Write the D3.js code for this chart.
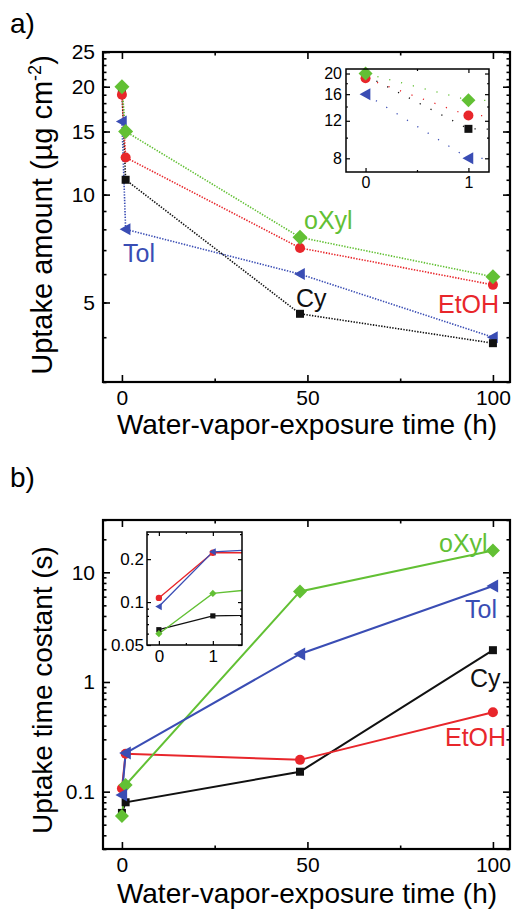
<!DOCTYPE html>
<html>
<head>
<meta charset="utf-8">
<script src="https://cdn.jsdelivr.net/npm/d3@7"></script>
<style>
  body { margin: 0; background: #fff; }
  svg { display: block; font-family: "Liberation Sans", Arial, sans-serif; }
</style>
</head>
<body>
<div id="wrapper"></div>
<script>
// exposure times (h)
const hours = [0, 1, 48, 100]

// panel a: uptake amount (ug cm^-2)
const amountOXyl = [20.0, 15.0, 7.6, 5.9]
const amountEtOH = [19.0, 12.7, 7.1, 5.6]
const amountCy = [19.6, 11.0, 4.65, 3.85]
const amountTol = [16.0, 8.0, 6.0, 4.0]

// panel b: uptake time constant (s)
const tauOXyl = [0.06, 0.115, 6.7, 15.8]
const tauEtOH = [0.107, 0.222, 0.195, 0.53]
const tauCy = [0.064, 0.08, 0.152, 1.95]
const tauTol = [0.093, 0.225, 1.8, 7.5]

// tick labels
const xTicks = [0, 50, 100]
const xMinor = [25, 75]
const aTicks = [5, 10, 15, 20, 25]
const aMinor = d3.range(3, 26)
const bTicks = [0.1, 1, 10]
const insetXTicks = [0, 1]
const insetXMinor = [0.5]
const insetATicks = [8, 12, 16, 20]
const insetAMinor = [10, 14, 18]
const insetBTicks = [0.05, 0.1, 0.2]

const green = "#62c034"
const red = "#e8262b"
const blue = "#3a4db4"
const black = "#111"

const width = 513
const height = 910

const svg = d3.select("#wrapper")
  .append("svg")
    .attr("width", width)
    .attr("height", height)

function markerPath(shape, s) {
  if (shape === "square") return `M${-s},${-s}H${s}V${s}H${-s}Z`
  if (shape === "diamond") return `M0,${-s}L${s},0L0,${s}L${-s},0Z`
  if (shape === "triangle") return `M${-s},0L${s * 0.8},${-s}L${s * 0.8},${s}Z`
  return d3.symbol(d3.symbolCircle, Math.PI * s * s)()
}

function drawPanel(cfg) {
  const xScale = d3.scaleLinear().domain(cfg.xDomain).range([cfg.left, cfg.right])
  const yScale = d3.scaleLog().domain(cfg.yDomain).range([cfg.bottom, cfg.top])

  const g = svg.append("g")

  g.append("clipPath").attr("id", cfg.id + "-clip")
    .append("rect")
      .attr("x", cfg.left)
      .attr("y", cfg.top)
      .attr("width", cfg.right - cfg.left)
      .attr("height", cfg.bottom - cfg.top)

  g.append("rect")
    .attr("x", cfg.left)
    .attr("y", cfg.top)
    .attr("width", cfg.right - cfg.left)
    .attr("height", cfg.bottom - cfg.top)
    .attr("fill", "#fff")

  // ticks on all four sides, pointing inwards
  const fmt = cfg.format || (d => d)
  const axes = [
    [d3.axisBottom(xScale).tickValues(cfg.xTicks).tickSize(-cfg.major).tickPadding(cfg.padX).tickFormat(fmt), `translate(0,${cfg.bottom})`],
    [d3.axisBottom(xScale).tickValues(cfg.xMinor).tickSize(-cfg.minor).tickFormat(""), `translate(0,${cfg.bottom})`],
    [d3.axisTop(xScale).tickValues(cfg.xTicks).tickSize(-cfg.major).tickFormat(""), `translate(0,${cfg.top})`],
    [d3.axisTop(xScale).tickValues(cfg.xMinor).tickSize(-cfg.minor).tickFormat(""), `translate(0,${cfg.top})`],
    [d3.axisLeft(yScale).tickValues(cfg.yTicks).tickSize(-cfg.major).tickPadding(cfg.padY).tickFormat(fmt), `translate(${cfg.left},0)`],
    [d3.axisLeft(yScale).tickValues(cfg.yMinor).tickSize(-cfg.minor).tickFormat(""), `translate(${cfg.left},0)`],
    [d3.axisRight(yScale).tickValues(cfg.yTicks).tickSize(-cfg.major).tickFormat(""), `translate(${cfg.right},0)`],
    [d3.axisRight(yScale).tickValues(cfg.yMinor).tickSize(-cfg.minor).tickFormat(""), `translate(${cfg.right},0)`],
  ]
  axes.forEach(([axis, tr]) => {
    const a = g.append("g").attr("transform", tr).call(axis)
      .attr("font-family", null)
      .attr("font-size", cfg.fontSize)
    a.select(".domain").remove()
    a.selectAll("line").attr("stroke", "#000").attr("stroke-width", cfg.tickWidth)
    a.selectAll("text").attr("fill", "#000")
  })

  // lines
  const line = d3.line()
    .x((d, i) => xScale(hours[i]))
    .y(d => yScale(d))

  const series = g.append("g").attr("clip-path", `url(#${cfg.id}-clip)`)
  cfg.series.forEach(s => {
    series.append("path")
      .attr("d", line(s.values))
      .attr("fill", "none")
      .attr("stroke", s.color)
      .attr("stroke-width", cfg.lineWidth)
      .attr("stroke-dasharray", cfg.dash)
  })

  // markers
  cfg.series.forEach(s => {
    g.selectAll(null)
      .data(s.values.map((v, i) => [hours[i], v]).filter(d => d[0] <= cfg.xDomain[1]))
      .enter().append("path")
        .attr("d", markerPath(s.shape, cfg.sizes[s.shape]))
        .attr("transform", d => `translate(${xScale(d[0])},${yScale(d[1])})`)
        .attr("fill", s.color)
  })

  g.append("rect")
    .attr("x", cfg.left)
    .attr("y", cfg.top)
    .attr("width", cfg.right - cfg.left)
    .attr("height", cfg.bottom - cfg.top)
    .attr("fill", "none")
    .attr("stroke", "#000")
    .attr("stroke-width", cfg.frameWidth)

  return g
}

const seriesA = [
  { values: amountTol, color: blue, shape: "triangle" },
  { values: amountCy, color: black, shape: "square" },
  { values: amountEtOH, color: red, shape: "circle" },
  { values: amountOXyl, color: green, shape: "diamond" },
]
const seriesB = [
  { values: tauCy, color: black, shape: "square" },
  { values: tauEtOH, color: red, shape: "circle" },
  { values: tauOXyl, color: green, shape: "diamond" },
  { values: tauTol, color: blue, shape: "triangle" },
]

// ---------- panel a ----------
drawPanel({
  id: "a", left: 103, right: 510, top: 52, bottom: 382,
  xDomain: [-5.1, 104.6], yDomain: [3, 25],
  xTicks, xMinor, yTicks: aTicks, yMinor: aMinor,
  major: 7, minor: 3.5, padX: 8, padY: 8, fontSize: 21,
  tickWidth: 1.6, frameWidth: 2.2, lineWidth: 1.6, dash: "1.4,1.4",
  sizes: { square: 4, diamond: 7.5, circle: 5, triangle: 6 },
  series: seriesA,
})

drawPanel({
  id: "ai", left: 346, right: 489, top: 69, bottom: 172,
  xDomain: [-0.19, 1.2], yDomain: [6.9, 21],
  xTicks: insetXTicks, xMinor: insetXMinor, yTicks: insetATicks, yMinor: insetAMinor,
  major: 4, minor: 2, padX: 5, padY: 4, fontSize: 16,
  tickWidth: 1.2, frameWidth: 1.5, lineWidth: 1.3, dash: "1.2,11",
  sizes: { square: 4, diamond: 7, circle: 5, triangle: 6 },
  series: seriesA,
})

// ---------- panel b ----------
const bMinor = d3.scaleLog().domain([0.03, 30]).ticks().filter(t => !bTicks.includes(t))
const insetBMinor = d3.scaleLog().domain([0.05, 0.31]).ticks().filter(t => !insetBTicks.includes(t))

drawPanel({
  id: "b", left: 103, right: 510, top: 520, bottom: 849,
  xDomain: [-5.1, 104.6], yDomain: [0.03, 30],
  xTicks, xMinor, yTicks: bTicks, yMinor: bMinor,
  major: 7, minor: 3.5, padX: 8, padY: 8, fontSize: 21,
  tickWidth: 1.6, frameWidth: 2.2, lineWidth: 2, dash: null,
  sizes: { square: 4, diamond: 7, circle: 5, triangle: 6.5 },
  series: seriesB,
})

drawPanel({
  id: "bi", left: 147, right: 242, top: 532, bottom: 645,
  xDomain: [-0.22, 1.54], yDomain: [0.05, 0.31],
  xTicks: insetXTicks, xMinor: insetXMinor, yTicks: insetBTicks, yMinor: insetBMinor,
  major: 4, minor: 2, padX: 5, padY: 3, fontSize: 17,
  tickWidth: 1.2, frameWidth: 1.5, lineWidth: 1.3, dash: null,
  sizes: { square: 2.6, diamond: 3.6, circle: 3.2, triangle: 3.6 },
  series: seriesB,
})

// ---------- texts ----------
const text = (x, y, str, size, color, anchor) => svg.append("text")
  .attr("x", x).attr("y", y)
  .attr("font-size", size)
  .attr("fill", color || "#000")
  .attr("text-anchor", anchor || "start")
  .text(str)

text(10, 33, "a)", 28)
text(10, 487, "b)", 28)

text(307, 434, "Water-vapor-exposure time (h)", 28, "#000", "middle")
text(307, 903, "Water-vapor-exposure time (h)", 28, "#000", "middle")

const yLabelA = svg.append("text")
  .attr("transform", "translate(52,215) rotate(-90)")
  .attr("text-anchor", "middle")
  .attr("font-size", 29)
yLabelA.append("tspan").text("Uptake amount (\u00b5g cm")
yLabelA.append("tspan").attr("dy", -11).attr("font-size", 18).text("-2")
yLabelA.append("tspan").attr("dy", 11).text(")")

svg.append("text")
  .attr("transform", "translate(52,690) rotate(-90)")
  .attr("text-anchor", "middle")
  .attr("font-size", 28)
  .text("Uptake time costant (s)")

// series names, panel a
text(304, 229, "oXyl", 25, green)
text(123, 262, "Tol", 25, blue)
text(296, 307, "Cy", 25, black)
text(438, 313, "EtOH", 25, red)

// series names, panel b
text(439, 552, "oXyl", 25, green)
text(465, 618, "Tol", 25, blue)
text(470, 687, "Cy", 25, black)
text(445, 746, "EtOH", 25, red)
</script>
</body>
</html>
